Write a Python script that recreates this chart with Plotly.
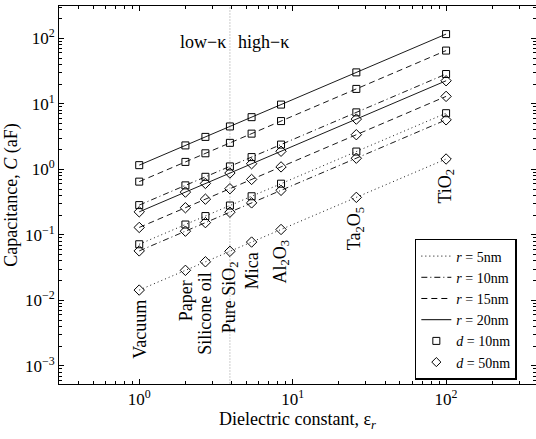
import math
import plotly.graph_objects as go

# ---- data ----
materials = ["Vacuum", "Paper", "Silicone oil", "Pure SiO<sub>2</sub>", "Mica",
             "Al<sub>2</sub>O<sub>3</sub>", "Ta<sub>2</sub>O<sub>5</sub>", "TiO<sub>2</sub>"]
eps_r = [1, 2, 2.7, 3.9, 5.4, 8.4, 26, 100]

c_r20_d10 = [1.16, 2.32, 3.13, 4.52, 6.26, 9.74, 30.2, 116]
c_r15_d10 = [0.65, 1.30, 1.76, 2.54, 3.51, 5.46, 16.9, 65]
c_r10_d10 = [0.285, 0.57, 0.77, 1.11, 1.54, 2.39, 7.41, 28.5]
c_r5_d10 = [0.072, 0.144, 0.194, 0.281, 0.389, 0.605, 1.87, 7.2]
c_r20_d50 = [0.225, 0.45, 0.61, 0.88, 1.22, 1.89, 5.85, 22.5]
c_r15_d50 = [0.13, 0.26, 0.351, 0.507, 0.702, 1.09, 3.38, 13]
c_r10_d50 = [0.057, 0.114, 0.154, 0.222, 0.308, 0.479, 1.48, 5.7]
c_r5_d50 = [0.0144, 0.0288, 0.0389, 0.0562, 0.0778, 0.121, 0.374, 1.44]

x_tickvals = [1, 10, 100]
x_ticktext = ["10<sup>0</sup>", "10<sup>1</sup>", "10<sup>2</sup>"]
y_tickvals = [1e-3, 1e-2, 1e-1, 1, 10, 100]
y_ticktext = ["10<sup>−3</sup>", "10<sup>−2</sup>", "10<sup>−1</sup>",
              "10<sup>0</sup>", "10<sup>1</sup>", "10<sup>2</sup>"]

sio2_eps = 3.9
kappa_label_c = 88

FONT = "Liberation Serif"
dashes = {"dot": "1px,3px", "dashdot": "6px,3px,1px,3px", "dash": "6px,4px", "solid": "solid"}

series = [
    (c_r5_d10, "dot", "square-open"),
    (c_r10_d10, "dashdot", "square-open"),
    (c_r15_d10, "dash", "square-open"),
    (c_r20_d10, "solid", "square-open"),
    (c_r5_d50, "dot", "diamond-open"),
    (c_r10_d50, "dashdot", "diamond-open"),
    (c_r15_d50, "dash", "diamond-open"),
    (c_r20_d50, "solid", "diamond-open"),
]

fig = go.Figure()

# vertical low/high-k divider
fig.add_trace(go.Scatter(x=[sio2_eps, sio2_eps], y=[1e-4, 1e3], mode="lines",
                         line=dict(color="#999999", width=1, dash="1px,2px"),
                         showlegend=False, hoverinfo="skip"))

for vals, dash, sym in series:
    fig.add_trace(go.Scatter(
        x=eps_r, y=vals, mode="lines+markers",
        line=dict(color="black", width=0.9, dash=dashes[dash]),
        marker=dict(symbol=sym, size=7 if sym.startswith("square") else 8,
                    color="black", line=dict(width=1, color="black")),
        showlegend=False))

# legend-only entries
for name, dash in [("<i>r</i> = 5nm", "dot"), ("<i>r</i> = 10nm", "dashdot"),
                   ("<i>r</i> = 15nm", "dash"), ("<i>r</i> = 20nm", "solid")]:
    fig.add_trace(go.Scatter(x=[None], y=[None], mode="lines", name=name,
                             line=dict(color="black", width=1, dash=dashes[dash])))
for name, sym in [("<i>d</i> = 10nm", "square-open"), ("<i>d</i> = 50nm", "diamond-open")]:
    fig.add_trace(go.Scatter(x=[None], y=[None], mode="markers", name=name,
                             marker=dict(symbol=sym, size=7, color="black",
                                         line=dict(width=1, color="black"))))

annotations = []
for m, e, c in zip(materials, eps_r, c_r5_d50):
    annotations.append(dict(x=math.log10(e), y=math.log10(c), text=m, textangle=-90,
                            xanchor="center", yanchor="top", yshift=-8, showarrow=False,
                            font=dict(family=FONT, size=18, color="black")))
annotations.append(dict(x=math.log10(sio2_eps), y=math.log10(kappa_label_c), text="low−κ",
                        xanchor="right", yanchor="middle", xshift=-2, showarrow=False,
                        font=dict(family=FONT, size=18, color="black")))
annotations.append(dict(x=math.log10(sio2_eps), y=math.log10(kappa_label_c), text="high−κ",
                        xanchor="left", yanchor="middle", xshift=6, showarrow=False,
                        font=dict(family=FONT, size=18, color="black")))

minor_vals = [k * 10 ** d for d in range(-4, 3) for k in range(2, 10)]

axis_common = dict(type="log", showline=True, linecolor="black", linewidth=1,
                   mirror="ticks", ticks="inside", ticklen=5, tickwidth=1,
                   tickcolor="black", showgrid=False, zeroline=False,
                   tickfont=dict(family=FONT, size=17, color="black"),
                   minor=dict(ticks="inside", ticklen=3, tickwidth=1, tickcolor="black",
                              tickmode="array", tickvals=minor_vals, showgrid=False))

fig.update_layout(
    width=536, height=439,
    margin=dict(l=59, r=0, t=6, b=55, autoexpand=False),
    paper_bgcolor="white", plot_bgcolor="white",
    font=dict(family=FONT, size=17, color="black"),
    xaxis=dict(range=[math.log10(0.3), 2.586], tickmode="array",
               tickvals=x_tickvals, ticktext=x_ticktext, automargin=False,
               title=dict(text="Dielectric constant, ε<sub><i>r</i></sub>",
                          font=dict(family=FONT, size=18), standoff=0),
               **axis_common),
    yaxis=dict(range=[-3.275, 2.493], tickmode="array",
               tickvals=y_tickvals, ticktext=y_ticktext, automargin=True,
               title=dict(text="Capacitance, <i>C</i> (aF)",
                          font=dict(family=FONT, size=18), standoff=2),
               **axis_common),
    legend=dict(x=0.746, xanchor="left", y=0.0106, yanchor="bottom",
                bordercolor="black", borderwidth=1.5, bgcolor="white",
                font=dict(family=FONT, size=14, color="black"),
                tracegroupgap=0, itemwidth=30),
    annotations=annotations,
    showlegend=True,
)

fig.write_html("out.html", config={"displayModeBar": False},
               post_script="document.body.style.margin='0';")
